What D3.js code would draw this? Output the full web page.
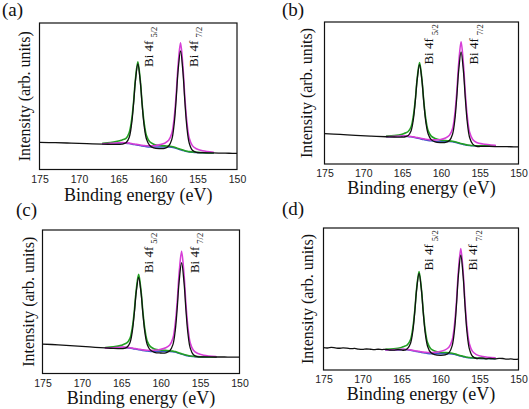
<!DOCTYPE html>
<html><head><meta charset="utf-8">
<script src="https://cdn.jsdelivr.net/npm/d3@7"></script>
<style>body{margin:0;background:#fff}svg{display:block}</style>
</head><body><svg id="c" width="529" height="409"></svg>
<script>
// ---------- data (binding energy in eV, intensity in arb. units) ----------
const xTicks = [175, 170, 165, 160, 155, 150];
const panelNames = ['(a)', '(b)', '(c)', '(d)'];
const yLabel = 'Intensity (arb. units)';
const xLabel = 'Binding energy (eV)';
const peakNames = ['5/2', '7/2'];

// panel (a)
const aFitE = [167,166,165,164.55,164.05,163.65,163.35,163.1,162.85,162.55,162.25,162.0,161.75,161.45,161.05,160.55,159.85,159.15,158.65,158.25,157.95,157.7,157.45,157.15,156.85,156.6,156.35,156.05,155.65,155.15,154.35,153];
const aBlue = [17.5,17.7,18.0,18.2,18.0,17.7,17.4,17.1,16.9,16.6,16.3,16.0,15.8,15.6,15.4,15.3,15.3,15.4,15.4,15.2,14.9,14.5,14.0,13.5,13.0,12.6,12.3,12.0,11.8,11.6,11.4,11.2];
const aGreen = [17.9,18.4,19.4,20.2,21.2,25.1,33.3,45.6,61.9,73.5,61.3,44.5,31.7,23.0,18.9,17.3,16.4,16.1,16.0,15.7,15.3,14.9,14.3,13.8,13.3,12.85,12.5,12.2,12.0,11.8,11.5,11.3];
const aMagenta = [17.6,17.85,18.2,18.4,18.2,18.0,17.7,17.4,17.2,17.0,16.7,16.5,16.3,16.2,16.1,16.25,16.8,17.95,19.9,24.7,35.3,51.0,71.6,86.4,70.6,49.1,32.7,21.5,16.3,14.15,12.8,11.8];
const aBlackE = [175,173,171,169,167,166,165,164.55,164.05,163.65,163.35,163.1,162.85,162.55,162.25,162.0,161.75,161.45,161.05,160.55,159.85,159.15,158.65,158.25,157.95,157.7,157.45,157.15,156.85,156.6,156.35,156.05,155.65,155.15,154.35,153,152,151,150];
const aBlack = [18.5,18.3,18.0,17.6,17.3,17.2,17.2,17.3,18.2,21.9,30.7,44.4,60.9,72.0,60.5,43.7,29.7,20.6,16.4,14.8,14.3,14.5,16.0,20.6,31.2,47.9,67.8,81.0,67.0,46.4,29.2,18.1,13.15,11.7,11.5,11.3,11.2,11.1,11.0];

// panel (b)
const bFitE = [167,166,165,164.75,164.25,163.85,163.55,163.3,163.05,162.75,162.45,162.2,161.95,161.65,161.25,160.75,160.05,159.4,158.9,158.5,158.2,157.95,157.7,157.4,157.1,156.85,156.6,156.3,155.9,155.4,154.6,153];
const bBlue = [19.2,19.3,19.5,19.6,19.4,19.1,18.8,18.5,18.2,17.9,17.5,17.2,16.9,16.6,16.3,16.0,15.7,15.8,15.8,15.6,15.3,15.0,14.6,14.2,13.8,13.5,13.2,13.0,12.8,12.7,12.7,12.7];
const bGreen = [19.6,20.05,21.0,21.5,22.7,26.1,33.8,45.25,60.5,71.4,59.8,43.95,31.9,23.6,19.6,17.9,16.8,16.5,16.3,16.0,15.7,15.35,14.9,14.5,14.05,13.7,13.4,13.2,13.0,12.85,12.8,12.8];
const bMagenta = [19.3,19.45,19.7,19.8,19.6,19.35,19.1,18.8,18.55,18.3,17.9,17.7,17.4,17.2,17.0,17.0,17.2,18.3,20.25,24.9,35.4,50.9,71.3,86.0,70.5,49.4,33.3,22.3,17.25,15.2,14.1,13.25];
const bBlackE = [175,173,171,169,167,166,165,164.75,164.25,163.85,163.55,163.3,163.05,162.75,162.45,162.2,161.95,161.65,161.25,160.75,160.05,159.4,158.9,158.5,158.2,157.95,157.7,157.4,157.1,156.85,156.6,156.3,155.9,155.4,154.6,153,152,151,150];
const bBlack = [21.4,20.8,20.1,19.6,19.2,19.0,19.0,19.0,19.85,23.3,31.4,44.25,59.8,70.0,59.2,43.25,29.9,21.3,17.2,15.6,15.1,15.2,16.6,21.0,31.2,47.2,66.3,79.0,65.6,45.9,29.4,18.7,14.0,12.5,12.4,12.3,12.2,12.15,12.1];

// panel (c)
const cFitE = [167,166,165,164.8,164.3,163.9,163.6,163.35,163.1,162.8,162.5,162.25,162.0,161.7,161.3,160.8,160.1,159.35,158.85,158.45,158.15,157.9,157.65,157.35,157.05,156.8,156.55,156.25,155.85,155.35,154.55,153];
const cBlue = [17.6,17.8,18.1,18.2,18.0,17.7,17.4,17.1,16.9,16.6,16.3,16.0,15.8,15.6,15.4,15.3,15.3,15.4,15.4,15.2,14.9,14.5,14.0,13.5,13.0,12.6,12.3,12.0,11.8,11.6,11.4,11.3];
const cGreen = [18.05,18.55,19.6,20.05,21.3,24.5,32.1,43.4,58.5,69.2,57.9,42.3,30.5,22.4,18.7,17.15,16.35,16.1,15.9,15.6,15.3,14.8,14.3,13.8,13.25,12.85,12.5,12.2,12.0,11.75,11.5,11.4];
const cMagenta = [17.7,17.95,18.3,18.4,18.2,17.95,17.7,17.4,17.25,16.95,16.7,16.45,16.3,16.2,16.1,16.2,16.7,17.9,19.85,24.5,35.0,50.35,70.6,85.2,69.6,48.45,32.4,21.3,16.25,14.1,12.75,11.9];
const cBlackE = [175,173,171,169,167,166,165,164.8,164.3,163.9,163.6,163.35,163.1,162.8,162.5,162.25,162.0,161.7,161.3,160.8,160.1,159.35,158.85,158.45,158.15,157.9,157.65,157.35,157.05,156.8,156.55,156.25,155.85,155.35,154.55,153,152,151,150];
const cBlack = [20.5,20.0,19.3,18.5,17.8,17.5,17.3,17.3,18.2,21.5,29.5,41.95,56.9,66.9,56.5,41.15,28.4,20.1,16.3,14.8,14.3,14.4,15.8,20.1,30.1,45.85,64.8,77.2,64.0,44.45,28.2,17.7,13.1,11.7,11.6,11.5,11.5,11.4,11.4];

// panel (d)
const dFitE = [167,166,165,164.75,164.25,163.85,163.55,163.3,163.05,162.75,162.45,162.2,161.95,161.65,161.25,160.75,160.05,159.4,158.9,158.5,158.2,157.95,157.7,157.4,157.1,156.85,156.6,156.3,155.9,155.4,154.6,153];
const dBlue = [14.0,14.1,14.3,14.4,14.2,13.9,13.6,13.3,13.0,12.7,12.4,12.1,11.9,11.7,11.5,11.4,11.4,11.5,11.5,11.3,11.0,10.6,10.2,9.8,9.4,9.1,8.8,8.6,8.4,8.2,8.1,8.0];
const dGreen = [14.5,14.9,15.9,16.4,17.7,21.3,29.5,41.65,57.8,69.4,57.2,40.45,27.8,19.1,15.0,13.4,12.5,12.3,12.1,11.8,11.4,11.0,10.5,10.1,9.7,9.35,9.0,8.8,8.6,8.35,8.2,8.1];
const dMagenta = [14.1,14.3,14.5,14.6,14.45,14.2,13.9,13.6,13.35,13.1,12.85,12.6,12.45,12.3,12.25,12.4,13.0,14.15,16.2,21.1,32.2,48.45,70.0,85.5,69.2,46.95,30.0,18.45,13.1,10.85,9.55,8.6];
const dBlackE = [175,174.5,174,173.5,173,172.5,172,171.5,171,170.5,170,169.5,169,168.5,168,167.5,167,166.5,166,165.5,165,164.75,164.25,163.85,163.55,163.3,163.05,162.75,162.45,162.2,161.95,161.65,161.25,160.75,160.05,159.4,158.9,158.5,158.2,157.95,157.7,157.4,157.1,156.85,156.6,156.3,155.9,155.4,155,154.6,154.2,153.8,153.4,153,152.5,152,151.5,151,150.5,150];
const dBlack = [15.7,15.5,15.9,15.6,15.3,15.6,15.4,15.0,15.2,14.7,14.5,14.8,14.6,14.3,14.6,14.4,14.5,14.1,14.0,14.3,14.2,13.9,15.0,18.7,27.3,40.95,57.2,68.0,56.6,39.75,25.7,16.6,12.3,10.8,10.3,10.6,12.2,17.2,28.35,45.9,66.9,80.8,66.2,44.6,26.55,14.9,9.7,8.1,8.4,8.3,7.9,8.2,8.0,7.9,8.2,8.1,7.6,7.8,7.5,7.7];

// label positions (energy of the rotated peak labels)
const labelE = [[160.65, 154.95], [161.0, 155.2], [161.0, 155.2], [160.9, 155.3]];
const labelI = 70;

// ---------- layout ----------
const layout = [
  {box: [39.5, 237, 23, 169.5],   ylabX: 30,  letter: [2, 16],    xlabDy: 31},
  {box: [324.5, 518.5, 22, 164],  ylabX: 312, letter: [282, 16],  xlabDy: 30},
  {box: [42.5, 239.5, 230, 373.5],ylabX: 34,  letter: [16, 216],  xlabDy: 30.5},
  {box: [323.5, 518.5, 228, 370], ylabX: 313, letter: [282, 215], xlabDy: 30}
];
const series = [
  {fitE: aFitE, blue: aBlue, green: aGreen, magenta: aMagenta, blackE: aBlackE, black: aBlack},
  {fitE: bFitE, blue: bBlue, green: bGreen, magenta: bMagenta, blackE: bBlackE, black: bBlack},
  {fitE: cFitE, blue: cBlue, green: cGreen, magenta: cMagenta, blackE: cBlackE, black: cBlack},
  {fitE: dFitE, blue: dBlue, green: dGreen, magenta: dMagenta, blackE: dBlackE, black: dBlack}
];

const SERIF = '"Liberation Serif","Times New Roman",serif';
const SANS = '"Liberation Sans",Arial,sans-serif';
const svg = d3.select('#c');

series.forEach((s, i) => {
  const L = layout[i];
  const [l, r, t, b] = L.box;
  const x = d3.scaleLinear().domain([175, 150]).range([l, r]);
  const y = d3.scaleLinear().domain([0, 100]).range([b, t]);
  const g = svg.append('g');
  const clipId = 'clip' + i;
  g.append('clipPath').attr('id', clipId).append('rect')
    .attr('x', l).attr('y', t).attr('width', r - l).attr('height', b - t);

  const line = d3.line().x(d => x(d[0])).y(d => y(d[1])).curve(d3.curveCatmullRom.alpha(0.5));
  const zip = (e, v) => e.map((d, k) => [d, v[k]]);
  const lg = g.append('g').attr('clip-path', `url(#${clipId})`).attr('fill', 'none')
    .attr('stroke-linejoin', 'round').attr('stroke-linecap', 'round');
  lg.append('path').attr('d', line(zip(s.fitE, s.blue))).attr('stroke', '#3a55c8').attr('stroke-width', 1.5);
  lg.append('path').attr('d', line(zip(s.fitE, s.green))).attr('stroke', '#22a022').attr('stroke-width', 1.6);
  lg.append('path').attr('d', line(zip(s.fitE, s.magenta))).attr('stroke', '#d63ed6').attr('stroke-width', 1.6);
  lg.append('path').attr('d', line(zip(s.blackE, s.black))).attr('stroke', '#111').attr('stroke-width', 1.3);

  // frame
  g.append('rect').attr('x', l).attr('y', t).attr('width', r - l).attr('height', b - t)
    .attr('fill', 'none').attr('stroke', '#111').attr('stroke-width', 1.2);

  // x axis tick labels
  const ax = g.append('g').attr('transform', `translate(0,${b})`)
    .call(d3.axisBottom(x).tickValues(xTicks).tickSize(0).tickPadding(6).tickFormat(d3.format('d')));
  ax.select('.domain').remove();
  ax.selectAll('text').attr('font-family', SANS).attr('font-size', 10.5).attr('fill', '#222');

  // axis titles
  g.append('text').attr('x', (l + r) / 2).attr('y', b + L.xlabDy).attr('text-anchor', 'middle')
    .attr('font-family', SERIF).attr('font-size', 18).attr('fill', '#111').text(xLabel);
  g.append('text').attr('transform', `translate(${L.ylabX},${(t + b) / 2}) rotate(-90)`)
    .attr('text-anchor', 'middle').attr('font-family', SERIF).attr('font-size', 16)
    .attr('fill', '#111').text(yLabel);

  // panel letter
  g.append('text').attr('x', L.letter[0]).attr('y', L.letter[1])
    .attr('font-family', SERIF).attr('font-size', 19).attr('fill', '#111').text(panelNames[i]);

  // peak labels
  labelE[i].forEach((e, k) => {
    const tx = g.append('text').attr('transform', `translate(${x(e)},${y(labelI)}) rotate(-90)`)
      .attr('font-family', SERIF).attr('font-size', 13).attr('fill', '#111');
    tx.append('tspan').text('Bi 4f');
    tx.append('tspan').attr('dx', 3).attr('dy', 4.5).attr('font-size', 8.5).text(peakNames[k]);
  });
});
</script></body></html>
